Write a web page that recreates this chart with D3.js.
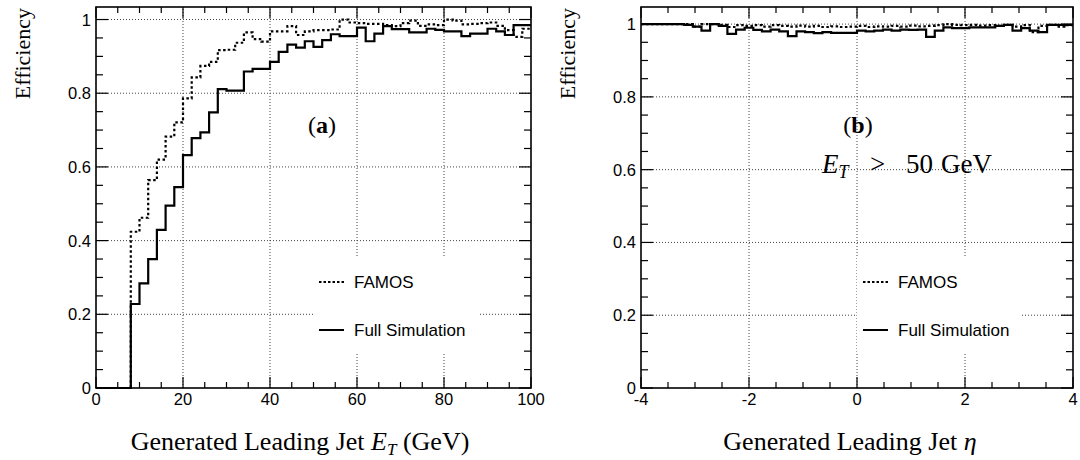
<!DOCTYPE html>
<html>
<head>
<meta charset="utf-8">
<script src="https://cdn.jsdelivr.net/npm/d3@7"></script>
<style>
  body { margin: 0; background: #fff; }
  svg { display: block; }
  .tick-label { font-family: "Liberation Sans", Arial, sans-serif; font-size: 16.5px; fill: #000; }
  .title { font-family: "Liberation Serif", "Times New Roman", serif; font-size: 22px; fill: #000; }
  .legend-text { font-family: "Liberation Sans", Arial, sans-serif; font-size: 17px; fill: #000; }
</style>
</head>
<body>
<script>
// bin edges for the E_T panel (GeV) and the eta panel
const etEdges = d3.range(0, 100.001, 2);
const etaEdges = d3.range(0, 51).map(i => -4 + i * 0.16);

// efficiency vs leading jet E_T
const famosEt = [0, 0, 0, 0,
  0.424, 0.462, 0.564, 0.620, 0.682, 0.721, 0.786, 0.843, 0.874, 0.885, 0.917, 0.918, 0.937, 0.965, 0.947, 0.940,
  0.968, 0.968, 0.982, 0.958, 0.968, 0.971, 0.971, 0.973, 1.000, 0.992,
  0.990, 0.988, 0.988, 0.985, 0.982, 0.990, 0.997, 0.983, 0.987, 0.985,
  1.000, 0.997, 0.987, 0.988, 0.990, 0.992, 0.983, 0.971, 0.953, 0.975];
const fullSimEt = [0, 0, 0, 0,
  0.228, 0.284, 0.350, 0.429, 0.495, 0.545, 0.632, 0.678, 0.694, 0.748, 0.811, 0.807, 0.807, 0.859, 0.866, 0.866,
  0.885, 0.912, 0.932, 0.924, 0.941, 0.926, 0.944, 0.960, 0.955, 0.955,
  0.978, 0.941, 0.962, 0.982, 0.974, 0.974, 0.965, 0.965, 0.975, 0.972,
  0.968, 0.968, 0.955, 0.962, 0.962, 0.975, 0.968, 0.958, 0.985, 0.985];

// efficiency vs leading jet eta (E_T > 50 GeV)
const famosEta = [1, 1, 1, 1, 1, 1, 0.993, 1, 1, 0.998,
  0.992, 0.997, 0.995, 0.997, 0.993, 0.997, 0.995, 0.993, 0.996, 0.993,
  0.995, 0.992, 0.994, 0.992, 0.993, 0.995, 0.992, 0.994, 0.993, 0.995,
  0.993, 0.996, 0.994, 0.995, 0.997, 1.000, 0.998, 0.997, 0.998, 0.996,
  0.997, 0.995, 0.998, 0.993, 0.997, 0.978, 0.995, 0.998, 0.993, 0.997];
const fullSimEta = [1, 1, 1, 1, 1, 0.998, 0.993, 0.982, 1.000, 0.995,
  0.973, 0.985, 0.990, 0.984, 0.980, 0.985, 0.980, 0.967, 0.980, 0.978,
  0.975, 0.978, 0.976, 0.976, 0.976, 0.982, 0.980, 0.982, 0.985, 0.982,
  0.985, 0.984, 0.985, 0.965, 0.982, 0.991, 0.989, 0.989, 0.991, 0.991,
  0.991, 0.995, 0.998, 0.982, 0.989, 0.982, 0.978, 0.998, 0.998, 0.998];

const yTicks = [0, 0.2, 0.4, 0.6, 0.8, 1];
const yTickLabels = ["0", "0.2", "0.4", "0.6", "0.8", "1"];
const etTicks = [0, 20, 40, 60, 80, 100];
const etaTicks = [-4, -2, 0, 2, 4];
const legendNames = ["FAMOS", "Full Simulation"];

const w = 1080;
const h = 460;

const svg = d3.select("body")
  .append("svg")
  .attr("width", w)
  .attr("height", h);

function drawPanel(opt) {
  const x = d3.scaleLinear().domain(opt.xDomain).range([opt.left, opt.right]);
  const y = d3.scaleLinear().domain([0, opt.yMax]).range([388, 7]);
  const g = svg.append("g");

  // grid
  g.selectAll(".vgrid")
    .data(opt.xTicks.slice(1, -1))
    .enter()
    .append("line")
    .attr("x1", d => x(d)).attr("x2", d => x(d))
    .attr("y1", y(0)).attr("y2", y(opt.yMax))
    .attr("stroke", "#444").attr("stroke-width", 1).attr("stroke-dasharray", "1,2");
  g.selectAll(".hgrid")
    .data(yTicks.slice(1))
    .enter()
    .append("line")
    .attr("x1", opt.left).attr("x2", opt.right)
    .attr("y1", d => y(d)).attr("y2", d => y(d))
    .attr("stroke", "#444").attr("stroke-width", 1).attr("stroke-dasharray", "1,2");

  // legend box hides the grid behind it
  g.append("rect")
    .attr("x", opt.legX - 6).attr("y", 258)
    .attr("width", 165).attr("height", 94)
    .attr("fill", "#fff");

  // histograms
  const step = d3.line()
    .x(d => x(d[0]))
    .y(d => y(d[1]))
    .curve(d3.curveStepAfter);
  const toPts = (vals) => {
    const pts = vals.map((v, i) => [opt.edges[i], v]);
    pts.push([opt.edges[opt.edges.length - 1], vals[vals.length - 1]]);
    return pts;
  };
  g.append("path")
    .attr("d", step(toPts(opt.famos)))
    .attr("fill", "none").attr("stroke", "#000").attr("stroke-width", 2.2)
    .attr("stroke-dasharray", "2.5,2.5");
  g.append("path")
    .attr("d", step(toPts(opt.full)))
    .attr("fill", "none").attr("stroke", "#000").attr("stroke-width", 2.2);

  // frame
  g.append("rect")
    .attr("x", opt.left).attr("y", y(opt.yMax))
    .attr("width", opt.right - opt.left).attr("height", y(0) - y(opt.yMax))
    .attr("fill", "none").attr("stroke", "#000").attr("stroke-width", 1.6);

  // ticks on all four sides
  const xMinor = d3.range(opt.xDomain[0], opt.xDomain[1] + 1e-9, opt.xMinorStep);
  const yMinor = d3.range(0, opt.yMax, 0.05);
  xMinor.forEach(v => {
    const major = opt.xTicks.some(t => Math.abs(t - v) < 1e-9);
    const len = major ? 11 : 6;
    g.append("line").attr("x1", x(v)).attr("x2", x(v))
      .attr("y1", y(0)).attr("y2", y(0) - len)
      .attr("stroke", "#000").attr("stroke-width", 1.2);
    g.append("line").attr("x1", x(v)).attr("x2", x(v))
      .attr("y1", y(opt.yMax)).attr("y2", y(opt.yMax) + len)
      .attr("stroke", "#000").attr("stroke-width", 1.2);
  });
  yMinor.forEach(v => {
    const major = yTicks.some(t => Math.abs(t - v) < 1e-9);
    const len = major ? 12 : 7;
    g.append("line").attr("x1", opt.left).attr("x2", opt.left + len)
      .attr("y1", y(v)).attr("y2", y(v))
      .attr("stroke", "#000").attr("stroke-width", 1.2);
    g.append("line").attr("x1", opt.right).attr("x2", opt.right - len)
      .attr("y1", y(v)).attr("y2", y(v))
      .attr("stroke", "#000").attr("stroke-width", 1.2);
  });

  // tick labels
  g.selectAll(".xl")
    .data(opt.xTicks)
    .enter()
    .append("text")
    .attr("class", "tick-label")
    .attr("x", d => x(d)).attr("y", 405)
    .attr("text-anchor", "middle")
    .text(d => String(d));
  g.selectAll(".yl")
    .data(yTicks)
    .enter()
    .append("text")
    .attr("class", "tick-label")
    .attr("x", opt.left - 5).attr("y", d => y(d) + 6)
    .attr("text-anchor", "end")
    .text((d, i) => yTickLabels[i]);

  // y title
  g.append("text")
    .attr("class", "title")
    .attr("transform", "translate(" + (opt.left - 66) + ",8) rotate(-90)")
    .attr("text-anchor", "end")
    .text("Efficiency");

  // legend
  const legY = [282, 330];
  legendNames.forEach((name, i) => {
    g.append("line")
      .attr("x1", opt.legX).attr("x2", opt.legX + 25)
      .attr("y1", legY[i]).attr("y2", legY[i])
      .attr("stroke", "#000").attr("stroke-width", 2)
      .attr("stroke-dasharray", i === 0 ? "2.5,2" : null);
    g.append("text")
      .attr("class", "legend-text")
      .attr("x", opt.legX + 35).attr("y", legY[i] + 6)
      .text(name);
  });

  return g;
}

const gA = drawPanel({
  left: 96, right: 531, xDomain: [0, 100], xTicks: etTicks, xMinorStep: 5,
  yMax: 1.034, edges: etEdges, famos: famosEt, full: fullSimEt, legX: 319
});
const gB = drawPanel({
  left: 641, right: 1073, xDomain: [-4, 4], xTicks: etaTicks, xMinorStep: 0.5,
  yMax: 1.047, edges: etaEdges, famos: famosEta, full: fullSimEta, legX: 863
});

// panel labels
gA.append("text").attr("class", "title").attr("x", 322).attr("y", 133)
  .attr("text-anchor", "middle").style("font-size", "24px")
  .html('(<tspan font-weight="bold">a</tspan>)');
gB.append("text").attr("class", "title").attr("x", 858).attr("y", 133)
  .attr("text-anchor", "middle").style("font-size", "24px")
  .html('(<tspan font-weight="bold">b</tspan>)');
gB.append("text").attr("class", "title").attr("x", 822).attr("y", 173)
  .style("font-size", "27px")
  .html('<tspan font-style="italic">E</tspan><tspan font-style="italic" font-size="18px" dy="5">T</tspan>' +
        '<tspan x="870" dy="-5">&gt;</tspan><tspan x="906">50</tspan><tspan x="941">GeV</tspan>');

// x titles
gA.append("text").attr("class", "title").attr("x", 300).attr("y", 450)
  .attr("text-anchor", "middle").style("font-size", "26px")
  .html('Generated Leading Jet <tspan font-style="italic">E</tspan><tspan font-style="italic" font-size="17px" dy="5">T</tspan><tspan dy="-5"> (GeV)</tspan>');
gB.append("text").attr("class", "title").attr("x", 850).attr("y", 450)
  .attr("text-anchor", "middle").style("font-size", "26px")
  .html('Generated Leading Jet <tspan font-style="italic">η</tspan>');
</script>
</body>
</html>
